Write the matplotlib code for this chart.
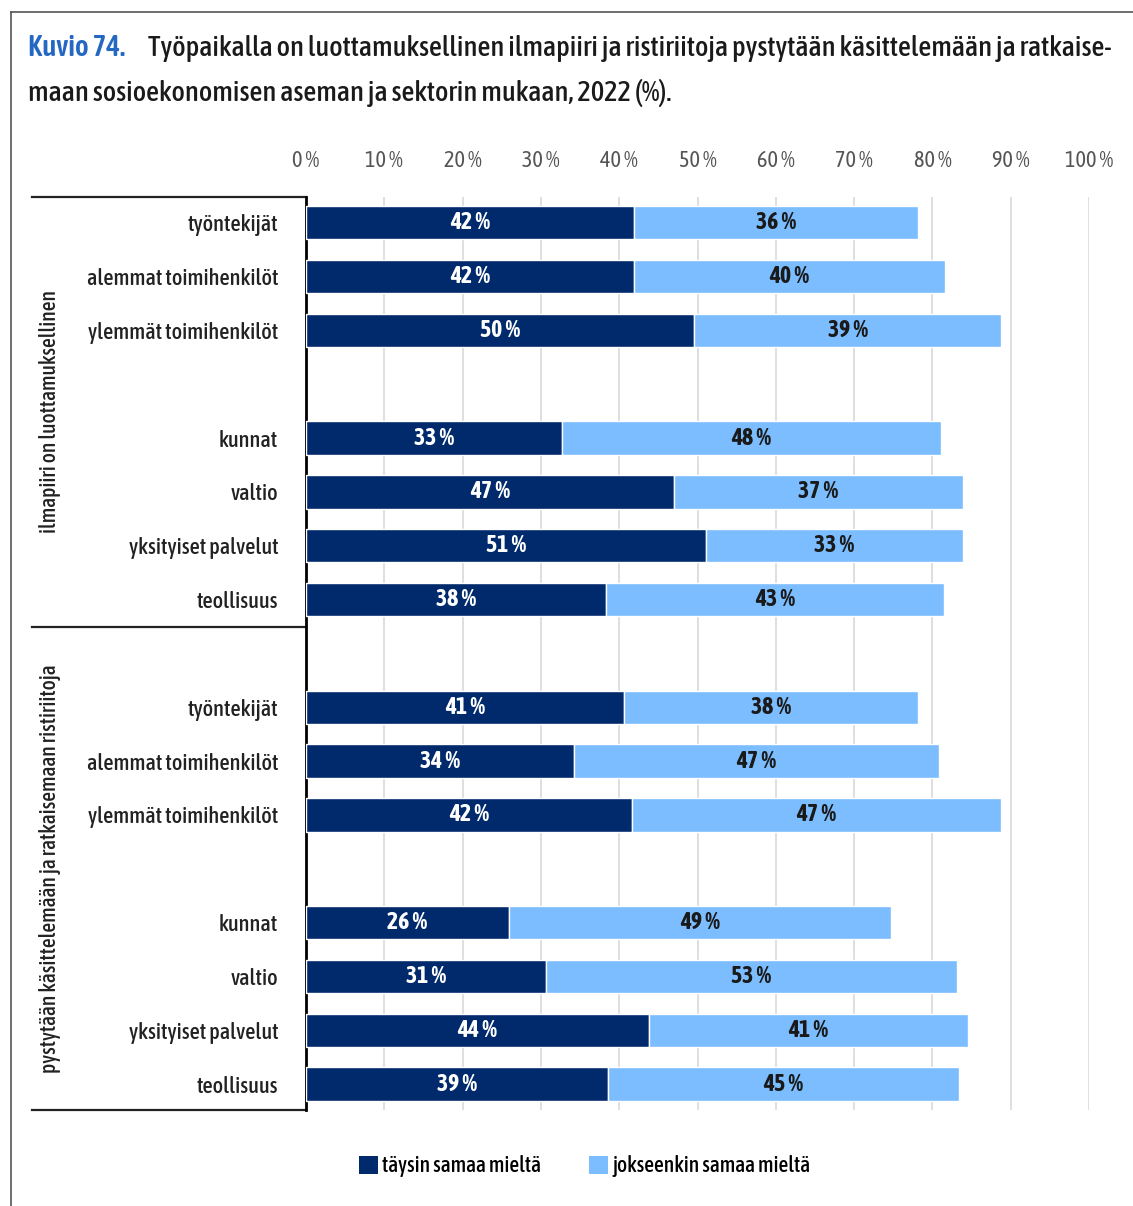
import matplotlib
matplotlib.use("Agg")
import matplotlib.pyplot as plt
from matplotlib.patches import Patch
from matplotlib.lines import Line2D
import matplotlib.transforms as mtransforms

plt.rcParams['font.family'] = ['Asap Condensed', 'DejaVu Sans']

# ---- data ----
categories = ["työntekijät", "alemmat toimihenkilöt", "ylemmät toimihenkilöt", "",
              "kunnat", "valtio", "yksityiset palvelut", "teollisuus", "",
              "työntekijät", "alemmat toimihenkilöt", "ylemmät toimihenkilöt", "",
              "kunnat", "valtio", "yksityiset palvelut", "teollisuus"]
taysin = [41.9, 41.9, 49.6, None, 32.7, 47.0, 51.1, 38.3, None,
          40.6, 34.2, 41.6, None, 25.9, 30.6, 43.8, 38.6]
jokseenkin = [36.3, 39.7, 39.2, None, 48.4, 36.9, 32.8, 43.2, None,
              37.6, 46.6, 47.1, None, 48.8, 52.6, 40.7, 44.8]
series_names = ["täysin samaa mieltä", "jokseenkin samaa mieltä"]
group_labels = ["ilmapiiri on luottamuksellinen",
                "pystytään käsittelemään ja ratkaisemaan ristiriitoja"]
xticks = list(range(0, 101, 10))

dark = "#002a6b"
light = "#7bbdff"

fig = plt.figure(figsize=(11.33, 12.06), dpi=100)
ax = fig.add_axes([0.2701, 0.0796, 0.6911, 0.7571])

for i, (a, b) in enumerate(zip(taysin, jokseenkin)):
    if a is None:
        continue
    ax.barh(i, a, height=0.62, color=dark, edgecolor="white", linewidth=1, zorder=3)
    ax.barh(i, b, left=a, height=0.62, color=light, edgecolor="white", linewidth=1, zorder=3)
    ax.text(a / 2, i, f"{round(a)} %", ha="center", va="center", color="white",
            fontsize=17, fontweight="bold", zorder=4)
    ax.text(a + b / 2, i, f"{round(b)} %", ha="center", va="center", color="#1a1a1a",
            fontsize=17, fontweight="bold", zorder=4)

ax.set_xlim(0, 100)
ax.set_ylim(16.48, -0.48)
ax.set_xticks(xticks)
ax.set_xticklabels([f"{t} %" for t in xticks], fontsize=16, color="#555555")
ax.xaxis.tick_top()
ax.tick_params(axis="x", length=0, pad=18)
ax.set_yticks(range(len(categories)))
ax.set_yticklabels(categories, fontsize=16, color="#222222", fontweight="medium")
ax.tick_params(axis="y", length=0, pad=20)
ax.grid(axis="x", color="#d9d9d9", linewidth=1.2, zorder=0)
ax.grid(axis="y", visible=False)
for s in ["top", "right", "bottom"]:
    ax.spines[s].set_visible(False)
ax.spines["left"].set_linewidth(2)
ax.spines["left"].set_color("black")

# group brackets
trans = mtransforms.blended_transform_factory(ax.transAxes, ax.transData)
for yy in [-0.48, 7.5, 16.48]:
    ax.add_line(Line2D([-0.35, 0], [yy, yy], transform=trans, color="#222222",
                       linewidth=1.6, clip_on=False))
ax.text(-0.327, 3.51, group_labels[0], transform=trans, rotation=90,
        ha="center", va="center", fontsize=15.5, color="#222222", fontweight="medium")
ax.text(-0.327, 11.99, group_labels[1], transform=trans, rotation=90,
        ha="center", va="center", fontsize=15.5, color="#222222", fontweight="medium")

# frame
fig.add_artist(Line2D([11 / 1133, 11 / 1133], [0, 1 - 12 / 1206], color="#555555", linewidth=1.2))
fig.add_artist(Line2D([11 / 1133, 1], [1 - 12 / 1206, 1 - 12 / 1206], color="#555555", linewidth=1.2))

# title
fig.text(28 / 1133, 1 - 48 / 1206, "Kuvio 74.", fontsize=21, fontweight="semibold",
         color="#2468c4", va="center", ha="left")
fig.text(148 / 1133, 1 - 48 / 1206,
         "Työpaikalla on luottamuksellinen ilmapiiri ja ristiriitoja pystytään käsittelemään ja ratkaise-",
         fontsize=20.5, color="#1a1a1a", va="center", ha="left", fontweight="medium")
fig.text(28 / 1133, 1 - 93 / 1206, "maan sosioekonomisen aseman ja sektorin mukaan, 2022 (%).",
         fontsize=20.5, color="#1a1a1a", va="center", ha="left", fontweight="medium")

# legend
handles = [Patch(facecolor=dark, label=series_names[0]),
           Patch(facecolor=light, label=series_names[1])]
fig.legend(handles=handles, loc="center", bbox_to_anchor=(0.516, 1 - 1166 / 1206),
           ncol=2, frameon=False, handlelength=0.9, handleheight=0.9,
           handletextpad=0.2, columnspacing=2.2, prop={"size": 15.5, "weight": "medium"})

fig.savefig("out.png", dpi=100)
